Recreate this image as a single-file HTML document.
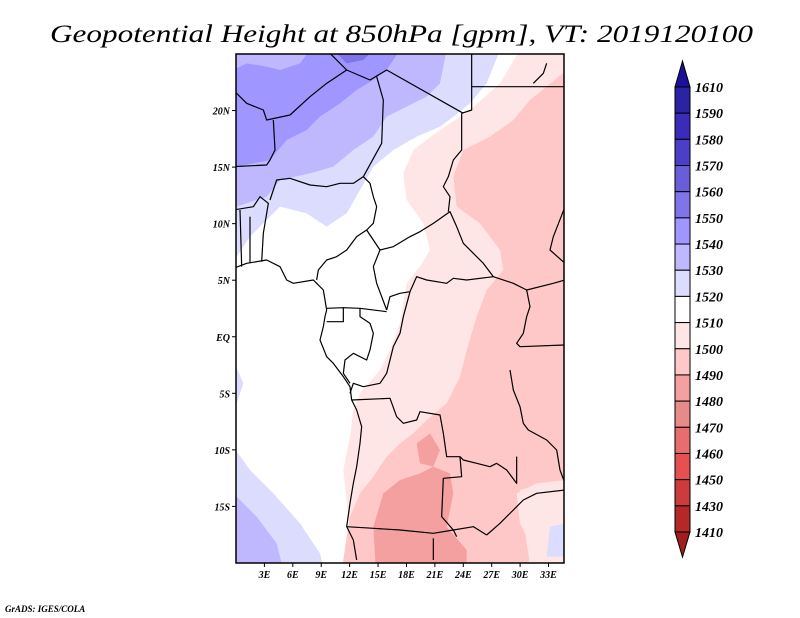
<!DOCTYPE html>
<html><head><meta charset="utf-8"><style>
html,body{margin:0;padding:0;background:#fff;width:800px;height:618px;overflow:hidden}
svg{display:block}
</style></head><body>
<svg id="chart" width="800" height="618" xmlns="http://www.w3.org/2000/svg">
<text x="50" y="42" font-family="Liberation Serif, serif" font-style="italic" font-size="25" textLength="703" lengthAdjust="spacingAndGlyphs">Geopotential Height at 850hPa [gpm], VT: 2019120100</text>
<defs><clipPath id="mc"><rect x="236" y="54" width="328" height="509"/></clipPath></defs>
<g clip-path="url(#mc)">
<rect x="236" y="54" width="328" height="509" fill="#ffe6e6"/>
<g transform="translate(200 50) scale(0.33333)">
<path d="M100,0 L960,0 L900,100 L810,180 L720,240 L640,300 L610,370 L620,450 L670,520 L690,600 L660,650 L620,700 L600,820 L570,900 L540,960 L480,1030 L460,1080 L450,1160 L430,1260 L440,1350 L450,1440 L480,1600 L100,1600 Z" fill="#ffffff"/>
<path d="M1100,60 L1040,110 L990,150 L940,210 L870,260 L790,300 L760,380 L770,470 L840,520 L900,600 L910,660 L860,720 L830,800 L800,900 L780,980 L740,1060 L680,1110 L640,1150 L600,1180 L560,1220 L520,1280 L480,1330 L450,1400 L440,1460 L420,1600 L960,1600 L1000,1500 L960,1420 L950,1330 L1010,1300 L1100,1290 Z" fill="#ffc8c8"/>
<path d="M960,1320 L1030,1300 L1100,1290 L1100,1600 L1000,1600 L980,1480 Z" fill="#ffe6e6"/>
<path d="M1050,1430 L1100,1420 L1100,1520 L1040,1520 Z" fill="#dcdcff"/>
<path d="M550,1330 L600,1290 L660,1270 L700,1250 L750,1270 L760,1330 L740,1430 L800,1500 L800,1600 L530,1600 L520,1430 Z" fill="#f5a0a0"/>
<path d="M650,1180 L690,1150 L720,1200 L700,1250 L660,1240 Z" fill="#f5a0a0"/>
<path d="M100,0 L900,0 L860,100 L810,160 L760,200 L720,230 L650,260 L580,300 L520,350 L480,420 L440,490 L380,530 L320,490 L240,470 L150,560 L110,620 L100,620 Z" fill="#dcdcff"/>
<path d="M100,930 L130,1000 L110,1060 L100,1060 Z" fill="#dcdcff"/>
<path d="M100,1190 L150,1260 L220,1330 L300,1420 L360,1510 L380,1600 L100,1600 Z" fill="#dcdcff"/>
<path d="M100,0 L740,0 L720,100 L680,140 L620,170 L560,200 L520,260 L460,300 L400,350 L330,370 L240,390 L200,440 L110,470 L100,470 Z" fill="#bfb8ff"/>
<path d="M100,1330 L170,1400 L230,1480 L260,1600 L100,1600 Z" fill="#bfb8ff"/>
<path d="M100,0 L600,0 L560,60 L520,90 L470,120 L420,160 L360,200 L320,240 L260,270 L210,330 L110,350 L100,350 Z" fill="#a096ff"/>
<path d="M100,0 L330,0 L300,40 L240,60 L200,50 L140,40 L100,60 Z" fill="#bfb8ff"/>
<path d="M400,0 L520,0 L490,30 L440,40 Z" fill="#8074ea"/>
<g fill="none" stroke="#000" stroke-width="3.6" stroke-linejoin="round">
<polyline points="100,120 140,160 190,180 200,210 270,195 330,140 380,100 440,60 510,90 560,60 790,190"/>
<polyline points="390,10 440,60"/>
<polyline points="785,190 815,180 815,10"/>
<polyline points="815,110 1095,110"/>
<polyline points="220,210 225,300 210,330 200,345 100,350"/>
<polyline points="530,80 550,150 545,280 490,380"/>
<polyline points="210,450 230,390 270,385 330,405 380,410 420,400 460,400 490,380 510,400 520,440 530,470 520,520 500,540 540,600"/>
<polyline points="100,480 160,470 180,440 205,460 190,550 185,635"/>
<polyline points="150,500 150,640"/>
<polyline points="120,480 125,650"/>
<polyline points="500,540 470,560 440,600 410,620 380,630 355,660 350,690"/>
<polyline points="540,600 520,650 530,700 560,780"/>
<polyline points="380,775 430,773 480,775 560,785"/>
<polyline points="540,600 580,590 630,560 660,545 700,520 750,485 770,530 790,580 820,610 850,640 880,680"/>
<polyline points="785,190 785,300 760,330 745,380 730,410 750,440 745,485"/>
<polyline points="560,780 570,740 600,730 630,725 650,680 680,690 740,700 760,685 800,690 880,680 940,700 980,720 1060,700 1095,690"/>
<polyline points="430,773 430,815 380,815"/>
<polyline points="630,725 610,800 600,850 580,890 570,930 560,970 540,1000 490,1010 460,1000 450,1030"/>
<polyline points="480,775 480,800 510,820 520,850 510,900 500,930 460,910 435,930 430,970 450,1000"/>
<polyline points="455,1050 570,1045 590,1100 610,1120 650,1110 660,1085 720,1095 730,1150 740,1220 780,1220 790,1230 830,1240 870,1250 890,1240 920,1260 950,1300 950,1220"/>
<polyline points="780,1220 785,1280 730,1285 725,1400 760,1440 770,1460"/>
<polyline points="440,1430 520,1435 600,1440 700,1450 760,1440 820,1430 860,1455"/>
<polyline points="700,1465 700,1530"/>
<polyline points="860,1455 900,1420 940,1380 970,1350 1010,1330 1095,1320"/>
<polyline points="980,720 990,770 980,800 970,850 950,880 960,890 1095,885"/>
<polyline points="1095,470 1060,560 1050,600 1095,640"/>
<polyline points="930,960 940,1020 960,1070 970,1120 985,1140 1040,1170 1070,1200 1080,1260 1095,1300"/>
<polyline points="1000,100 1030,70 1040,40"/>
<polyline points="100,655 140,640 200,630 240,650 260,690 280,700 340,690 350,700 370,720 380,780 375,800 370,830 360,870 380,920 400,940 430,980 450,1010 455,1050 470,1080 485,1130 480,1180 470,1250 460,1300 450,1360 440,1430 460,1470 470,1530"/>
</g>
</g>
</g>
<rect x="236" y="54" width="328" height="509" fill="none" stroke="#000" stroke-width="1.5"/>
<g id="axes" font-family="Liberation Serif, serif" font-style="italic" font-weight="bold" font-size="10" fill="#000"></g>
<g id="cbar"></g>
<text x="5" y="612" font-family="Liberation Serif, serif" font-style="italic" font-weight="bold" font-size="9">GrADS: IGES/COLA</text>
</svg>
<script>
const latTicks = [20, 15, 10, 5, 0, -5, -10, -15];
const latLabels = ["20N","15N","10N","5N","EQ","5S","10S","15S"];
const lonTicks = [3, 6, 9, 12, 15, 18, 21, 24, 27, 30, 33];
const lonLabels = ["3E","6E","9E","12E","15E","18E","21E","24E","27E","30E","33E"];
const cbarLabels = ["1610","1590","1580","1570","1560","1550","1540","1530","1520","1510","1500","1490","1480","1470","1460","1450","1430","1410"];
const cbarColors = ["#1e0f9a","#2a23a3","#3a2cb8","#4b3fc8","#6a5ed8","#8074ea","#a096ff","#bfb8ff","#dcdcff","#ffffff","#ffe6e6","#ffc8c8","#f5a0a0","#e68a8a","#e66e6e","#e65050","#cc3c3c","#b42828","#a01e1e"];
const NS="http://www.w3.org/2000/svg";
const xOf = lon => 236 + lon*9.47;
const yOf = lat => 54 + (25-lat)*11.31;
const ax=document.getElementById('axes');
latTicks.forEach((v,i)=>{
  const t=document.createElementNS(NS,'text');
  
  
  t.setAttribute('x',230);t.setAttribute('y',yOf(v)+4);t.setAttribute('text-anchor','end');
  t.textContent=latLabels[i];ax.appendChild(t);
  const l=document.createElementNS(NS,'line');
  
  
  l.setAttribute('x1',232);l.setAttribute('x2',236);l.setAttribute('y1',yOf(v));l.setAttribute('y2',yOf(v));l.setAttribute('stroke','#000');ax.appendChild(l);
});
lonTicks.forEach((v,i)=>{
  const t=document.createElementNS(NS,'text');
  
  
  t.setAttribute('x',xOf(v));t.setAttribute('y',578);t.setAttribute('text-anchor','middle');
  t.textContent=lonLabels[i];ax.appendChild(t);
  const l=document.createElementNS(NS,'line');
  
  
  l.setAttribute('x1',xOf(v));l.setAttribute('x2',xOf(v));l.setAttribute('y1',563);l.setAttribute('y2',567);l.setAttribute('stroke','#000');ax.appendChild(l);
});
const cb=document.getElementById('cbar');
const bx=675,bw=15,cbTop=87,cbBot=532,nBox=cbarLabels.length-1,boxH=(cbBot-cbTop)/nBox;
const tri1=document.createElementNS(NS,'polygon');


tri1.setAttribute('points',`${bx},${cbTop} ${bx+bw},${cbTop} ${bx+bw/2},${cbTop-26}`);
tri1.setAttribute('fill',cbarColors[0]);tri1.setAttribute('stroke','#000');cb.appendChild(tri1);
for(let i=0;i<nBox;i++){
  const r=document.createElementNS(NS,'rect');
  
  
  r.setAttribute('x',bx);r.setAttribute('y',cbTop+i*boxH);r.setAttribute('width',bw);r.setAttribute('height',boxH);
  r.setAttribute('fill',cbarColors[i+1]);r.setAttribute('stroke','#000');r.setAttribute('stroke-width','1');cb.appendChild(r);
}
const tri2=document.createElementNS(NS,'polygon');


tri2.setAttribute('points',`${bx},${cbBot} ${bx+bw},${cbBot} ${bx+bw/2},${cbBot+25}`);
tri2.setAttribute('fill',cbarColors[cbarColors.length-1]);tri2.setAttribute('stroke','#000');cb.appendChild(tri2);
cbarLabels.forEach((s,i)=>{
  const t=document.createElementNS(NS,'text');
  
  
  t.setAttribute('x',695);t.setAttribute('y',cbTop+i*boxH+5);
  t.setAttribute('font-family','Liberation Serif, serif');t.setAttribute('font-style','italic');t.setAttribute('font-weight','bold');t.setAttribute('font-size','14');
  t.textContent=s;cb.appendChild(t);
});
</script>
</body></html>
